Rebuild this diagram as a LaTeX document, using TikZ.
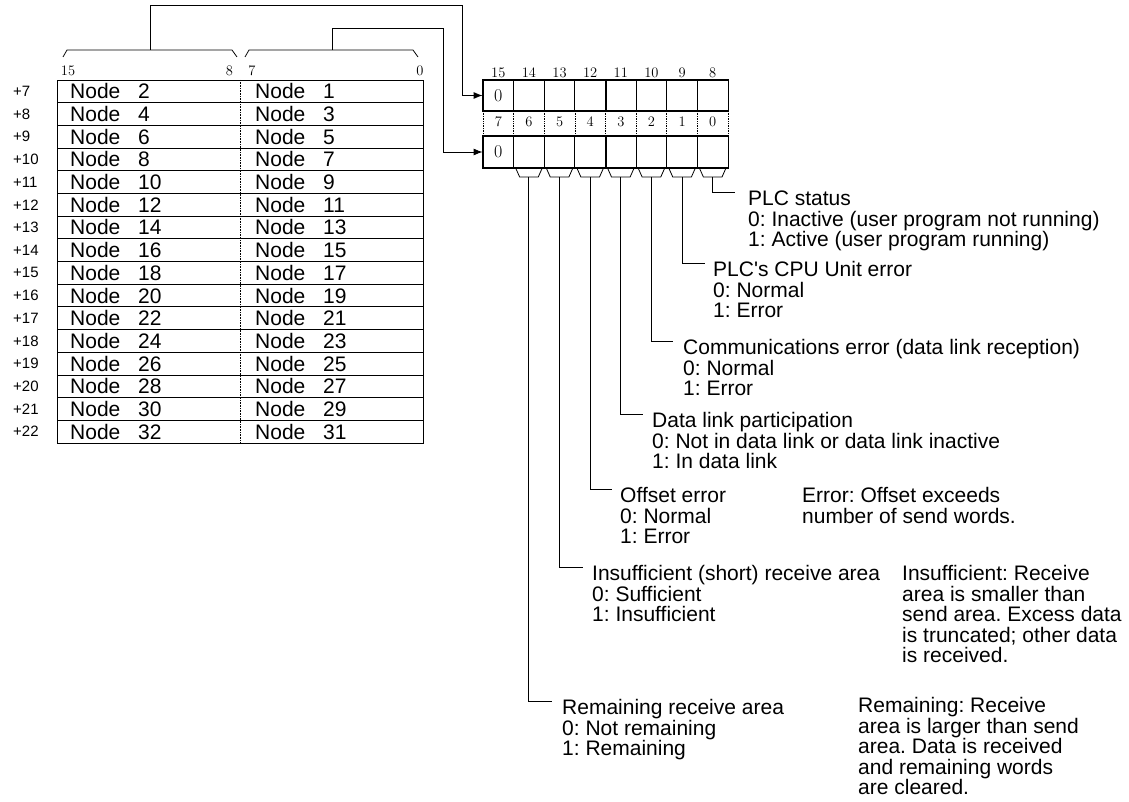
\documentclass[tikz,border=0pt]{standalone}
\usepackage{fontspec}
\newfontfamily\sans{Liberation Sans}
\usetikzlibrary{arrows.meta}
\newcommand\firstln{\rule{0pt}{15.5pt}}
\frenchspacing
\begin{document}
\begin{tikzpicture}[x=1pt,y=-1pt,
  lbl/.style={font=\sans\fontsize{21}{20.5}\selectfont\frenchspacing, anchor=north west, inner sep=0pt, align=left},
  cellt/.style={font=\sans\fontsize{21}{21}\selectfont, anchor=west, inner sep=0pt},
  rowno/.style={font=\sans\fontsize{15}{15}\selectfont, anchor=west, inner sep=0pt},
  bitno/.style={font=\fontsize{14.5}{14.5}\selectfont, inner sep=0pt},
  bitcell/.style={draw, line width=0.8pt, minimum width=30.625pt, minimum height=30.5pt, inner sep=0pt},
  zero/.style={font=\fontsize{18}{18}\selectfont, inner sep=0pt},
  lead/.style={line width=0.9pt},
  brk/.style={line width=0.8pt},
  arr/.style={line width=0.9pt, -{Latex[length=9pt,width=7pt]}},
]
\useasboundingbox (0,0) rectangle (1129,802);

% ---- word table ----
\draw[line width=0.9pt] (57,80) rectangle (423,443);
\foreach \i in {1,...,15} \draw[line width=0.8pt] (57,{80+22.6875*\i}) -- (423,{80+22.6875*\i});
\draw[densely dotted, line width=0.6pt] (240,80) -- (240,443);
\foreach \i in {0,...,15}{
  \pgfmathtruncatemacro\w{\i+7}
  \pgfmathtruncatemacro\e{2*\i+2}
  \pgfmathtruncatemacro\o{2*\i+1}
  \pgfmathsetmacro\yc{80+22.6875*(\i+0.5)}
  \node[rowno] (w\w) at (13,\yc) {+\w};
  \node[cellt] (hi\w) at (70,\yc) {\makebox[68pt][l]{Node}\e};
  \node[cellt] (lo\w) at (255,\yc) {\makebox[68pt][l]{Node}\o};
}
\node[bitno] (t15) at (68,71) {15};
\node[bitno] (t8) at (229.5,71) {8};
\node[bitno] (t7) at (252,71) {7};
\node[bitno] (t0) at (420,71) {0};

% braces
\draw[brk] (63,57) -- (67,50) -- (232,50) -- (237,57);
\draw[brk] (245,57) -- (249,50) -- (413,50) -- (418,57);
\coordinate (bL) at (150,50);
\coordinate (bR) at (332,50);

% ---- bit boxes ----
\foreach \b [count=\k from 0] in {15,...,8}{
  \node[bitcell] (u\b) at ({483+30.625*(\k+0.5)},95.5) {};
  \node[bitno] (nu\b) at ({483+30.625*(\k+0.5)},73) {\b};
}
\foreach \b [count=\k from 0] in {7,...,0}{
  \node[bitcell] (l\b) at ({483+30.625*(\k+0.5)},152) {};
  \node[bitno] (nl\b) at ({483+30.625*(\k+0.5)},122) {\b};
}
\node[zero] (z15) at (u15) {0};
\node[zero] (z7) at (l7) {0};
\draw[line width=1.8pt] (u15.north west) rectangle (u8.south east);
\draw[line width=1.6pt] (u12.north east) -- (u12.south east);
\draw[line width=1.8pt] (l7.north west) rectangle (l0.south east);
\draw[line width=1.6pt] (l4.north east) -- (l4.south east);
\foreach \k in {0,...,8}
  \draw[densely dotted, line width=0.7pt] ({483+30.625*\k},111) -- ({483+30.625*\k},136);

% brackets under lower bits
\foreach \b [count=\k from 1] in {6,...,0}{
  \pgfmathsetmacro\xl{483+30.625*\k}
  \draw[brk] ({\xl+2},168) -- ({\xl+6},177) -- ({\xl+30.625-6},177) -- ({\xl+30.625-2},168);
  \coordinate (k\b) at ({\xl+15.3},177);
}

% arrows from braces
\coordinate (cA) at (462,5);
\coordinate (cB) at (443,28);
\draw[arr] (bL) |- (cA) |- (u15.west);
\draw[arr] (bR) |- (cB) |- (l7.west);

% ---- labels ----
\node[lbl] (plc) at (748,190) {\firstln PLC status\\0: Inactive (user program not running)\\1: Active (user program running)};
\node[lbl] (cpu) at (713,261) {\firstln PLC's CPU Unit error\\0: Normal\\1: Error};
\node[lbl] (comm) at (683,339) {\firstln Communications error (data link reception)\\0: Normal\\1: Error};
\node[lbl] (dlp) at (652,412) {\firstln Data link participation\\0: Not in data link or data link inactive\\1: In data link};
\node[lbl] (off) at (620,487) {\firstln Offset error\\0: Normal\\1: Error};
\node[lbl] (ins) at (592,565) {\firstln Insufficient (short) receive area\\0: Sufficient\\1: Insufficient};
\node[lbl] (rem) at (562,699) {\firstln Remaining receive area\\0: Not remaining\\1: Remaining};
\node[lbl] (offnote) at (802,487) {\firstln Error: Offset exceeds\\number of send words.};
\node[lbl] (insnote) at (902,565) {\firstln Insufficient: Receive\\area is smaller than\\send area. Excess data\\is truncated; other data\\is received.};
\node[lbl] (remnote) at (858,697) {\firstln Remaining: Receive\\area is larger than send\\area. Data is received\\and remaining words\\are cleared.};

\draw[lead] (k0) |- ([xshift=-13pt,yshift=-2pt]plc.north west);
\draw[lead] (k1) |- ([xshift=-8pt,yshift=-2pt]cpu.north west);
\draw[lead] (k2) |- ([xshift=-10pt,yshift=-2pt]comm.north west);
\draw[lead] (k3) |- ([xshift=-9pt,yshift=-2pt]dlp.north west);
\draw[lead] (k4) |- ([xshift=-8pt,yshift=-2pt]off.north west);
\draw[lead] (k5) |- ([xshift=-9pt,yshift=-2pt]ins.north west);
\draw[lead] (k6) |- ([xshift=-10pt,yshift=-2pt]rem.north west);
\end{tikzpicture}
\end{document}
